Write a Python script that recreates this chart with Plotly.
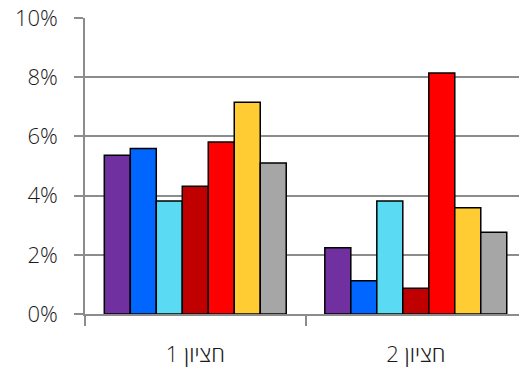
import plotly.graph_objects as go

# Half-year categories (shown right-to-left in Hebrew)
categories = ["\u202bחציון 1\u202c", "\u202bחציון 2\u202c"]

# Seven series, values in percent
series_names = ["סדרה 1", "סדרה 2", "סדרה 3", "סדרה 4", "סדרה 5", "סדרה 6", "סדרה 7"]
series_values = [
    [5.36, 2.24],
    [5.59, 1.12],
    [3.82, 3.82],
    [4.32, 0.87],
    [5.81, 8.14],
    [7.15, 3.59],
    [5.10, 2.76],
]
series_colors = ["#7030A0", "#0066FF", "#5BDBF3", "#C00000", "#FF0000", "#FFCC33", "#A6A6A6"]

y_ticks = [0, 2, 4, 6, 8, 10]
y_tick_labels = ["0%", "2%", "4%", "6%", "8%", "10%"]

fig = go.Figure()
for name, vals, col in zip(series_names, series_values, series_colors):
    fig.add_trace(go.Bar(
        x=categories, y=vals, name=name,
        marker=dict(color=col, line=dict(color="#000000", width=1.5)),
    ))

grid_col = "#8C8C8C"
fig.update_layout(
    width=519, height=368,
    margin=dict(l=85, r=0, t=18, b=54),
    paper_bgcolor="white", plot_bgcolor="white",
    barmode="group", bargap=0.175, bargroupgap=0,
    showlegend=False,
    font=dict(family="Open Sans, Noto Sans, sans-serif", size=22, color="#1A1A1A", weight=300),
    xaxis=dict(
        range=[-0.5, 1.468], automargin=False,
        showline=True, linecolor=grid_col, linewidth=1.5,
        ticks="outside", tickson="boundaries", ticklen=10, tickcolor=grid_col, tickwidth=1.5,
        showgrid=False, fixedrange=True, ticklabelstandoff=20,
    ),
    yaxis=dict(
        range=[0, 10], tickvals=y_ticks, ticktext=y_tick_labels, automargin=False,
        showline=True, linecolor=grid_col, linewidth=1.5,
        ticks="outside", ticklen=9, tickcolor=grid_col, tickwidth=1.5,
        showgrid=True, gridcolor=grid_col, gridwidth=1.5,
        zeroline=False, ticklabelstandoff=12,
    ),
)

fig.write_html("out.html")
